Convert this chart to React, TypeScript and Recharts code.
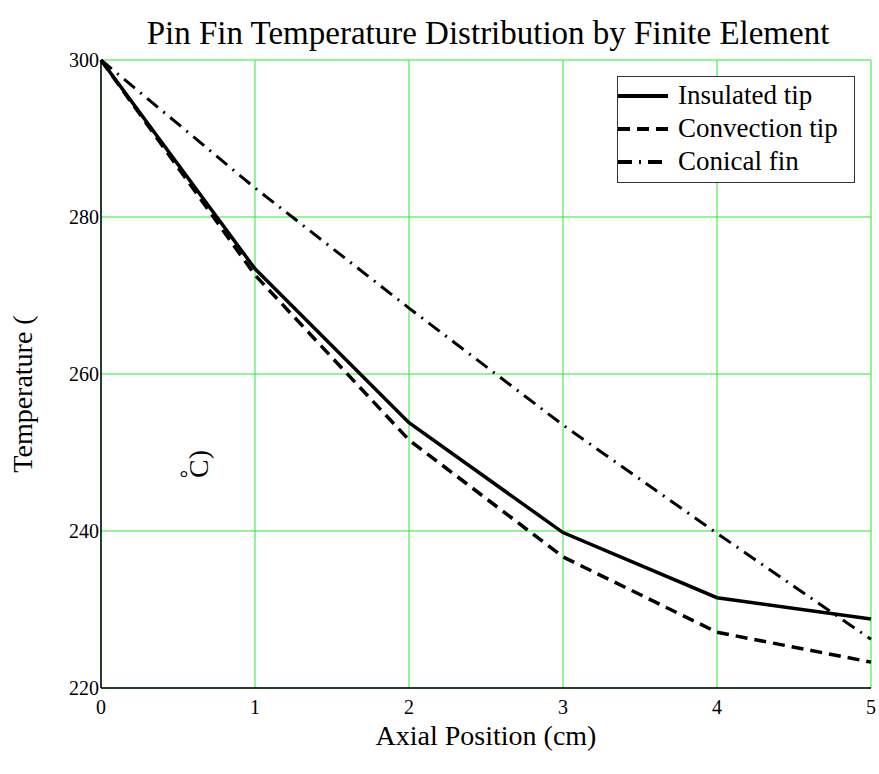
import React from "react";
import {
  LineChart,
  Line,
  XAxis,
  YAxis,
  CartesianGrid,
  Legend,
} from "recharts";

const positions = [0, 1, 2, 3, 4, 5];
const insulatedTip = [300, 273.4, 253.8, 239.8, 231.5, 228.8];
const convectionTip = [300, 272.6, 251.6, 236.7, 227.1, 223.3];
const conicalFin = [300, 283.7, 268.4, 253.5, 239.7, 226.2];
const xTicks = [0, 1, 2, 3, 4, 5];
const yTicks = [220, 240, 260, 280, 300];

const data = positions.map((x, i) => ({
  x,
  insulated: insulatedTip[i],
  convection: convectionTip[i],
  conical: conicalFin[i],
}));

const FONT = "'Liberation Serif', 'Times New Roman', serif";
const GRID = "#2ee62e";

const series = [
  { key: "insulated", name: "Insulated tip", dash: undefined, width: 3.5 },
  { key: "convection", name: "Convection tip", dash: "12 7", width: 3.5 },
  { key: "conical", name: "Conical fin", dash: "14 7 2 7", width: 3 },
];

const LegendBox = () => (
  <div
    style={{
      border: "1.5px solid #333",
      background: "#fff",
      width: 236,
      padding: "2px 0 4px 0",
      fontFamily: FONT,
      fontSize: 27,
      lineHeight: "33px",
    }}
  >
    {series.map((s) => (
      <div key={s.key} style={{ display: "flex", alignItems: "center" }}>
        <svg width={52} height={10} style={{ marginRight: 8 }}>
          <line
            x1={0}
            y1={5}
            x2={50}
            y2={5}
            stroke="#000"
            strokeWidth={4}
            strokeDasharray={s.dash}
          />
        </svg>
        <span>{s.name}</span>
      </div>
    ))}
  </div>
);

const textStyle = (left: number, top: number, size: number, rotate = false): React.CSSProperties => ({
  position: "absolute",
  left,
  top,
  transform: rotate ? "translate(-50%, -50%) rotate(-90deg)" : "translate(-50%, -50%)",
  whiteSpace: "nowrap",
  fontFamily: FONT,
  fontSize: size,
  lineHeight: 1,
});

const App = () => (
  <div style={{ position: "absolute", left: 0, top: 0, width: 879, height: 774, background: "#fff" }}>
    <div style={textStyle(488, 33, 33)}>
      Pin Fin Temperature Distribution by Finite Element
    </div>
    <LineChart
      width={879}
      height={774}
      data={data}
      margin={{ top: 60, right: 8, bottom: 0, left: 0 }}
    >
      <CartesianGrid stroke={GRID} strokeWidth={1} />
      <XAxis
        dataKey="x"
        type="number"
        domain={[0, 5]}
        ticks={xTicks}
        height={86}
        tickLine={false}
        tickSize={0}
        tickMargin={12}
        axisLine={{ stroke: "#000", strokeWidth: 1.5 }}
        tick={{ fill: "#000", fontFamily: FONT, fontSize: 20 }}
      />
      <XAxis
        xAxisId="top"
        dataKey="x"
        type="number"
        domain={[0, 5]}
        orientation="top"
        height={0}
        tick={false}
        tickLine={false}
        axisLine={{ stroke: "#000", strokeWidth: 1.5 }}
      />
      <YAxis
        type="number"
        domain={[220, 300]}
        ticks={yTicks}
        width={101}
        tickLine={false}
        tickSize={0}
        tickMargin={2}
        axisLine={{ stroke: "#000", strokeWidth: 1.5 }}
        tick={{ fill: "#000", fontFamily: FONT, fontSize: 20 }}
      />
      <YAxis
        yAxisId="right"
        orientation="right"
        type="number"
        domain={[220, 300]}
        width={0}
        tick={false}
        tickLine={false}
        axisLine={{ stroke: "#000", strokeWidth: 1.5 }}
      />
      <Legend
        layout="vertical"
        align="center"
        verticalAlign="middle"
        wrapperStyle={{ left: 617, top: 76, width: "auto" }}
        content={() => <LegendBox />}
      />
      {series.map((s) => (
        <Line
          key={s.key}
          dataKey={s.key}
          name={s.name}
          type="linear"
          stroke="#000"
          strokeWidth={s.width}
          strokeDasharray={s.dash}
          dot={false}
          isAnimationActive={false}
        />
      ))}
    </LineChart>
    <div style={textStyle(486, 736, 28)}>Axial Position (cm)</div>
    <div style={textStyle(23, 394, 28, true)}>Temperature (</div>
    <div style={textStyle(199, 464, 28, true)}>C)</div>
    <div style={textStyle(184, 478, 22)}>°</div>
  </div>
);

export default App;
